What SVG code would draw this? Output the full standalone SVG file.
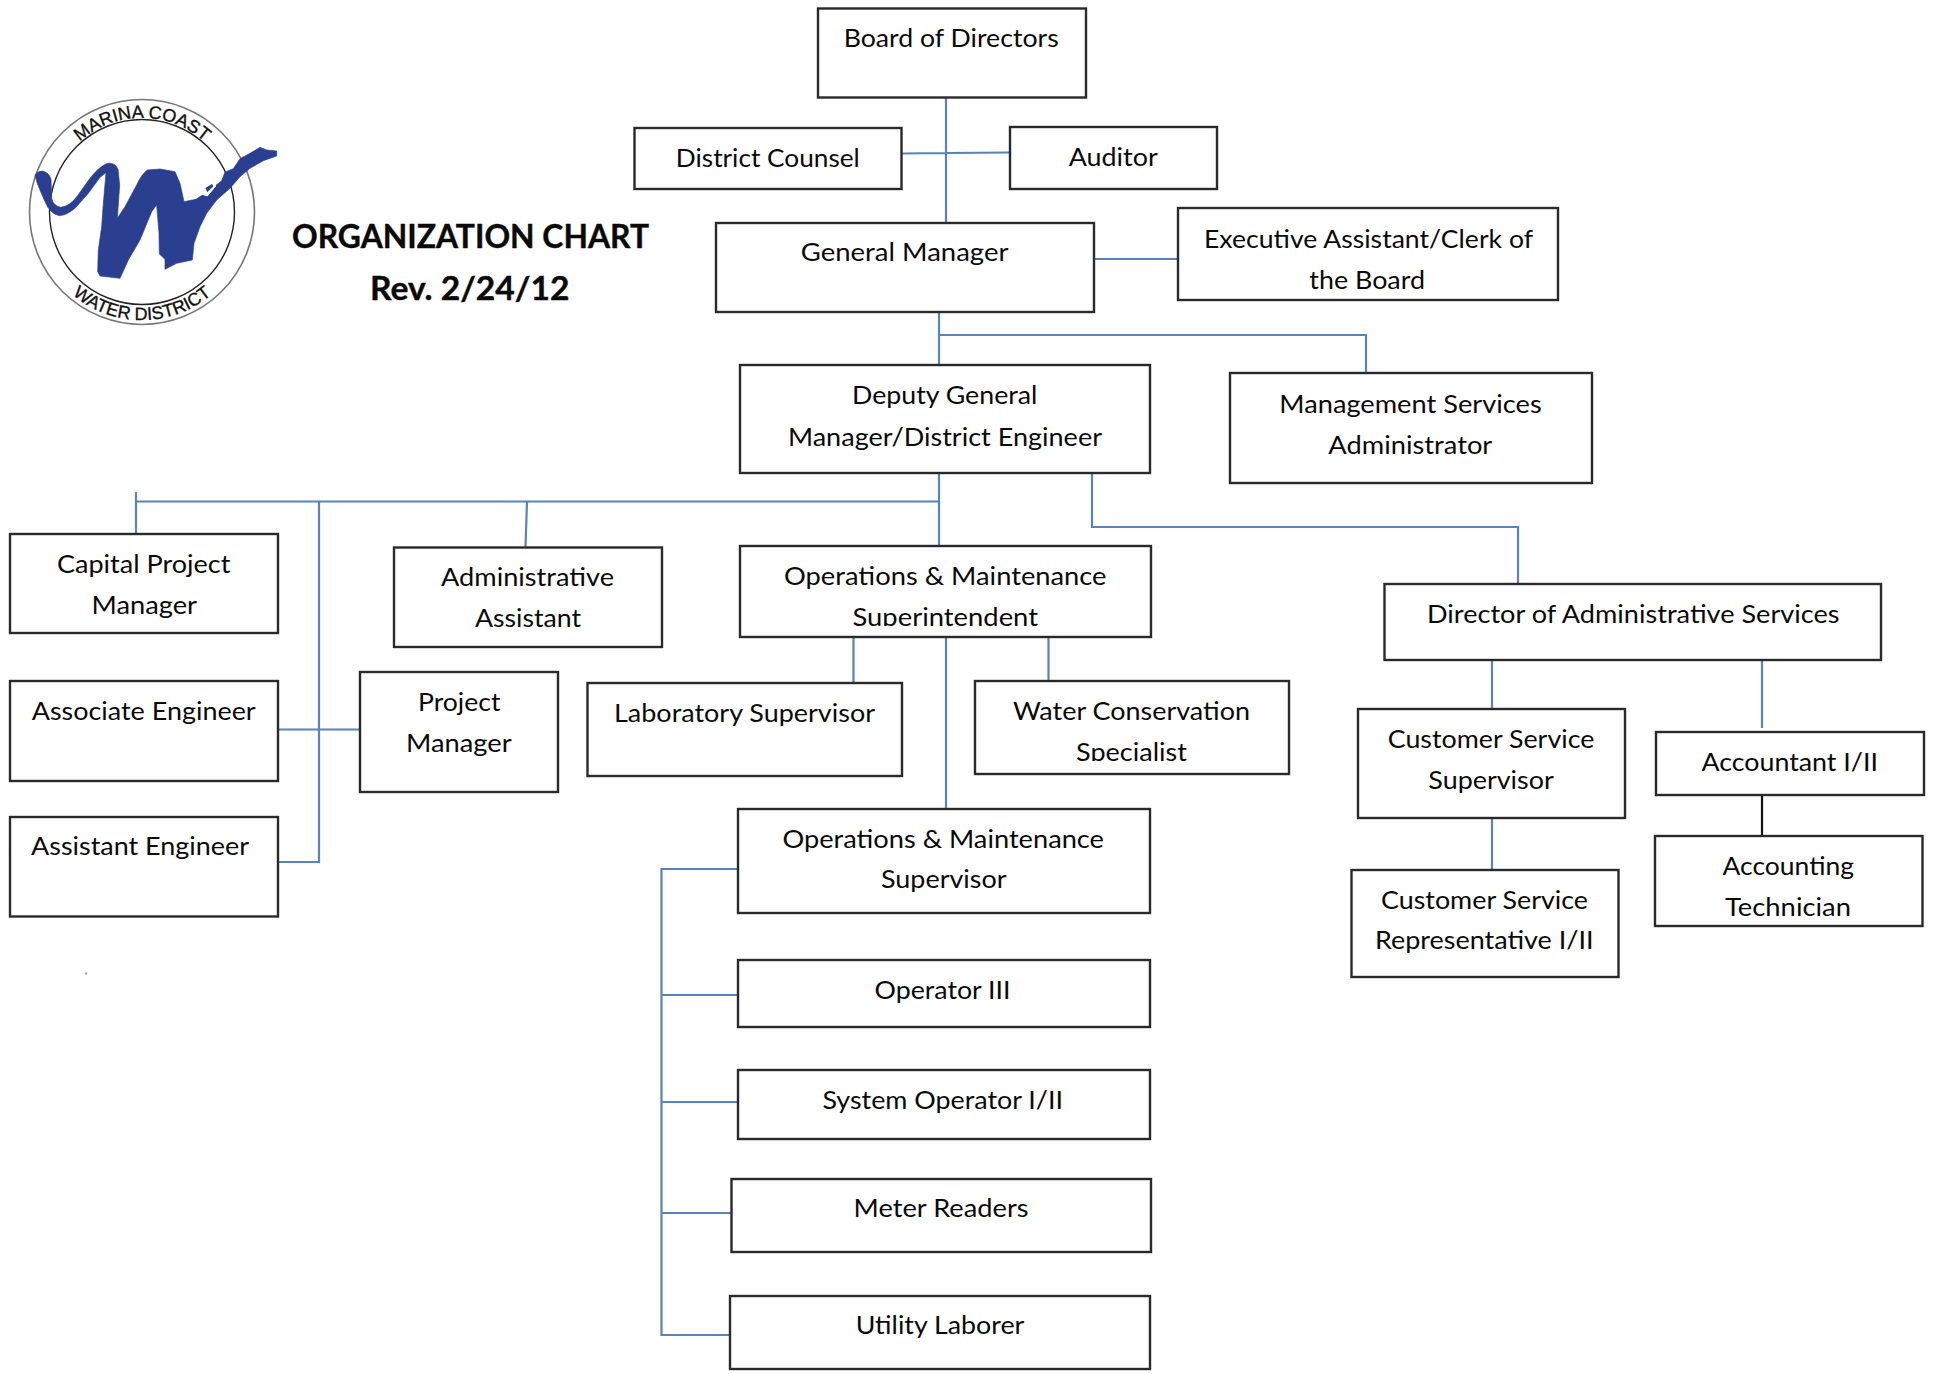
<svg xmlns="http://www.w3.org/2000/svg" width="1935" height="1374" viewBox="0 0 1935 1374">
<style>
text{font-family:"Lato","Carlito","Liberation Sans",sans-serif;font-size:25px;fill:#0a0a0a}
.b{fill:#fff;stroke:#2a2a2a;stroke-width:2.4}
.c{fill:none;stroke:#5a82bb;stroke-width:2.2}
.k{fill:none;stroke:#111;stroke-width:2.2}
.t{font-weight:700;font-size:32px;stroke:#0a0a0a;stroke-width:.4}
.l{font-family:"Liberation Sans",sans-serif;font-size:18px;fill:#111;stroke:#111;stroke-width:.35}
</style>
<defs>
<clipPath id="cut1"><rect x="840" y="600" width="210" height="26"/></clipPath>
<clipPath id="cut2"><rect x="1060" y="730" width="140" height="31"/></clipPath>
<path id="arcTop" d="M75.500,145.500 A94,94 0 0 1 208.500,145.500"/>
<path id="arcBot" d="M65.600,288.400 A108,108 0 0 0 218.400,288.400"/>
</defs>
<rect width="1935" height="1374" fill="#fff"/>
<g id="connectors">
<path class="c" d="M946 97V223M901 153.500L946 153L1010 152.500"/>
<path class="c" d="M1094 259H1178"/>
<path class="c" d="M939 312V365M939 335H1366V373"/>
<path class="c" d="M939 473V546M939 501.500H136M136 492V533M527 501.500L525.500 547"/>
<path class="c" d="M319 501.500V862H277M278 729.500H360"/>
<path class="c" d="M1092 473V527H1518V584"/>
<path class="c" d="M853.500 637V683M946 637V809M1048.500 637V681"/>
<path class="c" d="M738 869H661.500V1335H730M661.500 995H738M661.500 1102H738M661.500 1213H731"/>
<path class="c" d="M1492 660V709M1492 818V870"/>
<path class="c" d="M1762 660V728"/>
<path class="k" d="M1762 792V836"/>
</g>
<g id="logo">
<circle cx="142" cy="212" r="112.500" fill="none" stroke="#777" stroke-width="1.600"/>
<circle cx="142" cy="212" r="92.500" fill="none" stroke="#222" stroke-width="1.400"/>
<text class="l"><textPath href="#arcTop" startOffset="50%" text-anchor="middle">MARINA COAST</textPath></text>
<text class="l"><textPath href="#arcBot" startOffset="50%" text-anchor="middle">WATER DISTRICT</textPath></text>
<g transform="translate(0,70) scale(0.33333)">
<path fill="#2b3f91" stroke="#2b3f91" stroke-width="2" stroke-linejoin="round" d="M105,315 Q115,302 128,303 Q148,308 153,328 L155,385 Q160,408 182,412 Q208,410 232,378 L270,325 Q295,292 322,280 Q345,276 354,298 L359,345 L352,445 L375,410 L410,345 Q425,312 442,300 L480,297 L525,305 L540,340 L552,395 L588,388 L612,372 L640,352 L665,332 L675,306 L700,296 L720,266 L750,250 L780,232 L800,240 L830,243 L830,258 L790,272 L750,295 L720,320 L690,355 L650,390 L620,430 L600,470 L582,520 L577,570 L530,580 L495,598 L495,568 L478,552 L477,490 L470,405 L455,425 L420,510 L385,570 L360,625 L300,618 L293,605 L295,540 L305,470 L310,400 L318,308 L300,322 L265,370 L225,415 Q200,436 178,437 Q150,432 135,395 L122,365 Q110,340 105,315 Z"/>
<path fill="#fff" stroke="#fff" stroke-width="3" d="M608,352 L638,334 L647,348 L622,378 L604,372 Z"/>
<path fill="#2b3f91" d="M616,354 L636,342 L640,349 L622,367 Z"/>
</g>
</g>
<g id="title"><text class="t" x="292" y="247.500" textLength="357" lengthAdjust="spacingAndGlyphs">ORGANIZATION CHART</text>
<text class="t" x="370" y="299.500" textLength="199.500" lengthAdjust="spacingAndGlyphs">Rev. 2/24/12</text></g>
<g id="board"><rect class="b" x="818" y="8.500" width="268" height="89"/><text x="843.700" y="47" textLength="215" lengthAdjust="spacingAndGlyphs">Board of Directors</text></g>
<g id="counsel"><rect class="b" x="634.500" y="128" width="267" height="61"/><text x="675.800" y="167" textLength="184" lengthAdjust="spacingAndGlyphs">District Counsel</text></g>
<g id="auditor"><rect class="b" x="1010" y="127" width="207" height="62"/><text x="1068.700" y="166" textLength="89" lengthAdjust="spacingAndGlyphs">Auditor</text></g>
<g id="gm"><rect class="b" x="716" y="223" width="378" height="89"/><text x="800.800" y="261.400" textLength="207.600" lengthAdjust="spacingAndGlyphs">General Manager</text></g>
<g id="exec"><rect class="b" x="1178" y="208" width="380" height="92"/><text x="1204" y="247.700" textLength="329" lengthAdjust="spacingAndGlyphs">Executive Assistant/Clerk of</text><text x="1309.300" y="289" textLength="115.700" lengthAdjust="spacingAndGlyphs">the Board</text></g>
<g id="deputy"><rect class="b" x="740" y="365" width="410" height="108"/><text x="852" y="404.400" textLength="185.400" lengthAdjust="spacingAndGlyphs">Deputy General</text><text x="788" y="446" textLength="314" lengthAdjust="spacingAndGlyphs">Manager/District Engineer</text></g>
<g id="mgmt"><rect class="b" x="1230" y="373" width="362" height="110"/><text x="1279.300" y="412.700" textLength="262.400" lengthAdjust="spacingAndGlyphs">Management Services</text><text x="1328.300" y="453.700" textLength="164" lengthAdjust="spacingAndGlyphs">Administrator</text></g>
<g id="capital"><rect class="b" x="10" y="534" width="268" height="99"/><text x="57" y="572.700" textLength="173.400" lengthAdjust="spacingAndGlyphs">Capital Project</text><text x="91.500" y="613.700" textLength="105.500" lengthAdjust="spacingAndGlyphs">Manager</text></g>
<g id="admin"><rect class="b" x="394" y="547.500" width="268" height="99.500"/><text x="441" y="586.400" textLength="173" lengthAdjust="spacingAndGlyphs">Administrative</text><text x="475" y="627.400" textLength="106" lengthAdjust="spacingAndGlyphs">Assistant</text></g>
<g id="associate"><rect class="b" x="10" y="681" width="268" height="100"/><text x="31.700" y="720" textLength="224" lengthAdjust="spacingAndGlyphs">Associate Engineer</text></g>
<g id="assistant"><rect class="b" x="10" y="817" width="268" height="99.500"/><text x="31" y="855.400" textLength="218" lengthAdjust="spacingAndGlyphs">Assistant Engineer</text></g>
<g id="project"><rect class="b" x="360" y="672" width="198" height="120"/><text x="418" y="711" textLength="82.400" lengthAdjust="spacingAndGlyphs">Project</text><text x="406" y="752.400" textLength="105.600" lengthAdjust="spacingAndGlyphs">Manager</text></g>
<g id="omsuper"><rect class="b" x="740" y="546" width="411" height="91"/><text x="784" y="585" textLength="322.500" lengthAdjust="spacingAndGlyphs">Operations &amp; Maintenance</text><text x="852.500" y="625.500" textLength="185.500" lengthAdjust="spacingAndGlyphs" clip-path="url(#cut1)">Superintendent</text></g>
<g id="lab"><rect class="b" x="587.500" y="683" width="314.500" height="93"/><text x="614" y="721.700" textLength="261" lengthAdjust="spacingAndGlyphs">Laboratory Supervisor</text></g>
<g id="water"><rect class="b" x="975" y="681" width="314" height="93"/><text x="1013" y="719.700" textLength="237" lengthAdjust="spacingAndGlyphs">Water Conservation</text><text x="1076" y="761" textLength="111" lengthAdjust="spacingAndGlyphs" clip-path="url(#cut2)">Specialist</text></g>
<g id="omsup"><rect class="b" x="738" y="809" width="412" height="104"/><text x="782.400" y="848" textLength="321.600" lengthAdjust="spacingAndGlyphs">Operations &amp; Maintenance</text><text x="881" y="888.400" textLength="125.500" lengthAdjust="spacingAndGlyphs">Supervisor</text></g>
<g id="op3"><rect class="b" x="738" y="960" width="412" height="67"/><text x="874.600" y="998.700" textLength="136" lengthAdjust="spacingAndGlyphs">Operator III</text></g>
<g id="sysop"><rect class="b" x="738" y="1070" width="412" height="69"/><text x="822.500" y="1108.700" textLength="240.500" lengthAdjust="spacingAndGlyphs">System Operator I/II</text></g>
<g id="meter"><rect class="b" x="731.500" y="1179" width="419.500" height="73"/><text x="853.600" y="1216.700" textLength="175" lengthAdjust="spacingAndGlyphs">Meter Readers</text></g>
<g id="utility"><rect class="b" x="730" y="1296" width="420" height="73"/><text x="855.700" y="1334.400" textLength="168.600" lengthAdjust="spacingAndGlyphs">Utility Laborer</text></g>
<g id="director"><rect class="b" x="1384.500" y="584" width="496.500" height="76"/><text x="1427" y="623" textLength="412.500" lengthAdjust="spacingAndGlyphs">Director of Administrative Services</text></g>
<g id="cssup"><rect class="b" x="1358" y="709" width="267" height="109"/><text x="1387.700" y="747.700" textLength="206.700" lengthAdjust="spacingAndGlyphs">Customer Service</text><text x="1428.300" y="788.700" textLength="125.500" lengthAdjust="spacingAndGlyphs">Supervisor</text></g>
<g id="csrep"><rect class="b" x="1351.500" y="870" width="267" height="107"/><text x="1381" y="908.700" textLength="207" lengthAdjust="spacingAndGlyphs">Customer Service</text><text x="1375" y="949.400" textLength="218.500" lengthAdjust="spacingAndGlyphs">Representative I/II</text></g>
<g id="accountant"><rect class="b" x="1656" y="732" width="268" height="63"/><text x="1701.500" y="771" textLength="176.400" lengthAdjust="spacingAndGlyphs">Accountant I/II</text></g>
<g id="tech"><rect class="b" x="1655" y="836" width="267.500" height="90"/><text x="1722.500" y="875" textLength="131.500" lengthAdjust="spacingAndGlyphs">Accounting</text><text x="1725" y="915.700" textLength="126" lengthAdjust="spacingAndGlyphs">Technician</text></g>
<circle cx="86" cy="973.500" r="1.300" fill="#aaa"/>
</svg>
